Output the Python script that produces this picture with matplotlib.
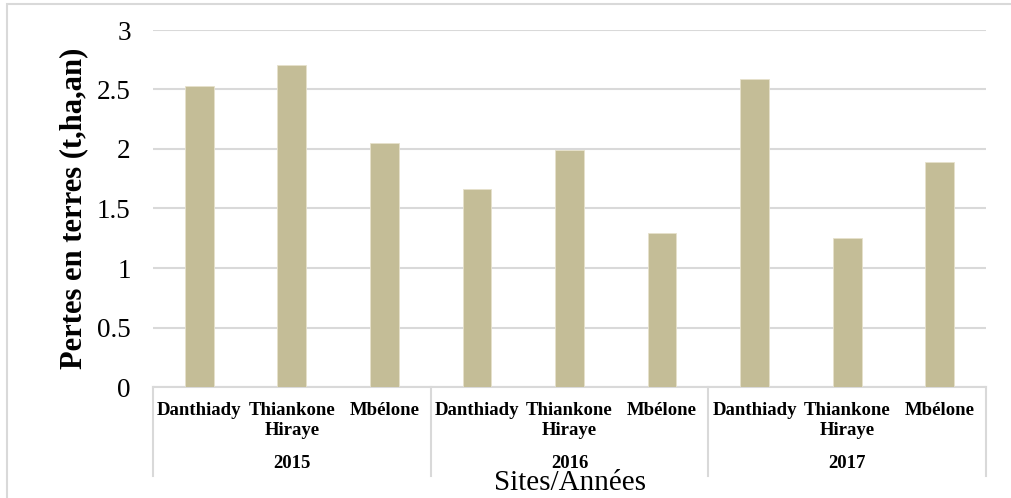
import numpy as np
import matplotlib.pyplot as plt
from matplotlib.patches import Rectangle
from matplotlib.transforms import blended_transform_factory

plt.rcParams['font.family'] = ['Liberation Serif', 'DejaVu Serif']

years = ['2015', '2016', '2017']
sites = ['Danthiady', 'Thiankone\nHiraye', 'Mbélone']
pertes = [2.53, 2.71, 2.05,
          1.66, 1.99, 1.29,
          2.59, 1.25, 1.89]

grid_col = '#D9D9D9'
bar_col = '#C4BD97'

fig = plt.figure(figsize=(10.11, 4.98), dpi=100)
ax = fig.add_axes([153 / 1011, 1 - 387 / 498, (986 - 153) / 1011, (387 - 30) / 498])

x = np.arange(len(pertes))
ax.bar(x, pertes, width=0.31, color=bar_col, edgecolor='#E6E1CC', linewidth=0.6, zorder=3)

ax.set_xlim(-0.5, len(pertes) - 0.5)
ax.set_ylim(0, 3)
ax.set_yticks(np.arange(0, 3.01, 0.5))
ax.set_yticklabels(['0', '0.5', '1', '1.5', '2', '2.5', '3'], fontsize=19.5)
ax.tick_params(axis='y', length=0, pad=16)
ax.set_xticks([])
ax.grid(axis='y', color=grid_col, linewidth=1.5, zorder=0)
for s in ['top', 'right', 'left']:
    ax.spines[s].set_visible(False)
ax.spines['bottom'].set_color(grid_col)
ax.spines['bottom'].set_linewidth(1.5)

ax.set_ylabel('Pertes en terres (t,ha,an)', fontsize=22, fontweight='bold', labelpad=6)

# multi-level category axis
trans = blended_transform_factory(ax.transData, ax.transAxes)
px = 1 / 357
for i, xi in enumerate(x):
    ax.text(xi, -15 * px, sites[i % 3], transform=trans, ha='center', va='top',
            fontsize=13.5, fontweight='bold', linespacing=1.2)
for g, yr in enumerate(years):
    ax.text(g * 3 + 1, -76 * px, yr, transform=trans, ha='center', va='center',
            fontsize=13.5, fontweight='bold')
for b in [-0.5, 2.5, 5.5, 8.5]:
    ax.plot([b, b], [0, -89 * px], transform=trans, color=grid_col, linewidth=1.5, clip_on=False)

fig.text(570 / 1011, 2 / 498, 'Sites/Années', ha='center', va='bottom', fontsize=21)

# outer chart frame
fig.patches.append(Rectangle((7 / 1011, -0.2), 1.2, 1.2 - 4 / 498, transform=fig.transFigure,
                             fill=False, edgecolor=grid_col, linewidth=1.5))

fig.savefig('out.png', dpi=100)
